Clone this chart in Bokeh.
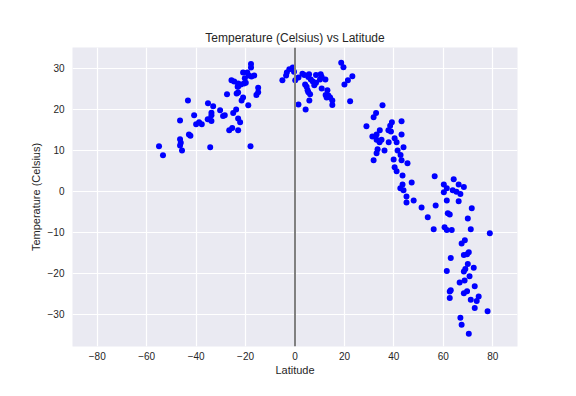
from bokeh.plotting import figure
from bokeh.models import Range1d, FixedTicker, Span
from bokeh.embed import file_html
from bokeh.resources import INLINE

# Latitude / temperature pairs
lat_south = [-55.0, -53.4, -46.5, -43.3, -46.5, -46.2, -46.5, -45.7, -42.9, -42.3,
             -40.8, -40.0, -38.8, -37.7, -35.2, -33.1, -34.3, -33.8, -33.8, -34.5,
             -33.8, -35.3, -30.3, -29.1, -28.4, -27.5, -26.6, -25.4, -23.0, -25.0,
             -23.8, -23.0, -22.2, -23.6, -23.0, -21.6, -21.0, -18.9, -18.0, -25.7,
             -24.6, -23.0, -23.0, -21.9, -20.6, -19.9, -20.3, -21.0, -19.3, -18.7,
             -17.6, -16.5, -17.8, -17.8, -14.9, -14.9, -15.6, -5.1, -3.6, -3.3,
             -2.3, -0.9, -0.4, -23.2]
temp_south = [10.9, 8.7, 17.2, 22.1, 12.6, 11.8, 11.1, 9.9, 13.8, 13.5,
              18.5, 16.3, 16.8, 16.3, 21.4, 20.7, 10.7, 19.1, 18.5, 17.5,
              17.1, 17.5, 19.7, 18.3, 18.5, 23.6, 14.8, 15.4, 14.8, 19.0,
              19.9, 17.7, 16.8, 23.8, 24.0, 22.1, 22.8, 20.9, 10.9, 27.0,
              26.7, 26.2, 25.5, 26.0, 26.2, 26.4, 27.5, 28.9, 28.9, 28.2,
              27.9, 28.2, 30.1, 31.0, 25.2, 24.1, 23.4, 27.0, 28.2, 28.9,
              29.7, 30.1, 29.1, 25.4]

lat_north = [0.1, 1.4, 3.0, 3.8, 5.7, 5.4, 6.4, 7.2, 8.5, 8.5,
             10.4, 10.8, 12.3, 10.1, 4.1, 4.7, 5.1, 5.4, 6.1, 5.8,
             1.4, 4.3, 7.8, 10.8, 13.1, 12.4, 13.5, 14.2, 15.1, 15.1,
             12.8, 18.7, 19.6, 23.2, 21.4, 20.0, 22.3, 35.4, 32.8, 31.8,
             28.9, 39.2, 38.5, 37.8, 38.8, 43.1, 43.1, 31.3, 33.0, 34.3,
             33.0, 34.2, 35.0, 37.9, 40.3, 41.1, 43.9, 33.4, 33.0, 31.8,
             36.2, 41.5, 42.7, 43.1, 39.9, 45.5, 40.3, 41.1, 43.5, 56.5,
             47.2, 43.5, 42.6, 43.9, 60.2, 61.4, 60.2, 45.1, 45.1, 48.0,
             51.2, 56.9, 61.4, 64.2, 66.2, 68.3, 63.8, 65.3, 66.9, 66.2,
             71.5, 53.7, 61.8, 62.6, 69.9, 56.1, 60.5, 61.4, 63.4, 71.1,
             78.8, 68.7, 67.4, 70.3, 69.6, 68.3, 63.0, 69.9, 72.3, 68.9,
             68.3, 61.4, 70.6, 68.6, 66.6, 72.7, 63.0, 62.6, 69.6, 68.3,
             62.6, 74.3, 73.5, 71.1, 72.7, 77.9, 66.9, 67.4, 70.3]
temp_north = [27.0, 27.7, 28.6, 28.3, 28.5, 27.8, 27.2, 26.7, 26.4, 28.3,
              28.5, 27.8, 27.2, 27.2, 26.0, 25.4, 24.6, 24.1, 23.6, 22.1,
              21.1, 19.9, 25.8, 25.0, 24.6, 23.4, 23.3, 22.8, 22.1, 21.0,
              22.8, 31.3, 30.2, 28.0, 27.0, 26.0, 21.9, 20.9, 19.0, 18.0,
              15.8, 16.8, 15.9, 14.8, 14.5, 17.0, 13.8, 13.3, 13.8, 14.8,
              12.5, 11.9, 12.5, 11.9, 12.9, 11.9, 10.7, 10.2, 9.2, 7.5,
              9.9, 9.9, 8.8, 7.5, 7.7, 6.8, 5.8, 4.8, 3.8, 3.6,
              2.1, 1.6, 0.7, 0.2, 1.6, 0.7, -0.3, -1.3, -2.8, -2.3,
              -4.0, -3.5, -2.3, 2.9, 1.6, 1.0, 0.2, -0.2, -0.7, -2.5,
              -4.2, -6.4, -5.4, -5.7, -6.7, -9.3, -8.8, -9.5, -9.5, -9.3,
              -10.3, -12.0, -12.8, -14.9, -15.4, -15.6, -16.3, -17.8, -18.7, -19.0,
              -19.6, -19.5, -20.8, -21.8, -22.3, -23.2, -24.2, -24.5, -24.4, -24.9,
              -26.1, -25.7, -26.8, -26.5, -28.5, -29.3, -30.9, -32.6, -34.8]

latitude = lat_south + lat_north
temperature = temp_south + temp_north

x_ticks = [-80, -60, -40, -20, 0, 20, 40, 60, 80]
y_ticks = [-30, -20, -10, 0, 10, 20, 30]

FONT = "Liberation Sans"
TXT = "#262626"

p = figure(width=568, height=388, output_backend="svg", toolbar_location=None,
           x_range=Range1d(-90, 90), y_range=Range1d(-37.9, 35.0),
           title="Temperature (Celsius) vs Latitude",
           x_axis_label="Latitude", y_axis_label="Temperature (Celsius)",
           min_border_left=72, min_border_right=51, min_border_top=47, min_border_bottom=42)

p.background_fill_color = "#EAEAF2"
p.border_fill_color = "white"
p.outline_line_color = None

p.title.align = "center"
p.title.text_font = FONT
p.title.text_font_size = "12px"
p.title.text_font_style = "normal"
p.title.text_color = TXT
p.title.offset = 0
p.title.standoff = 6

for ax in (p.xaxis, p.yaxis):
    ax.axis_line_color = None
    ax.major_tick_line_color = None
    ax.minor_tick_line_color = None
    ax.major_tick_in = 0
    ax.major_tick_out = 0
    ax.minor_tick_in = 0
    ax.minor_tick_out = 0
    ax.major_label_text_font = FONT
    ax.major_label_text_font_size = "10px"
    ax.major_label_text_color = TXT
    ax.axis_label_text_font = FONT
    ax.axis_label_text_font_size = "11px"
    ax.axis_label_text_font_style = "normal"
    ax.axis_label_text_color = TXT

p.xaxis.ticker = FixedTicker(ticks=x_ticks)
p.yaxis.ticker = FixedTicker(ticks=y_ticks)
p.xaxis.major_label_overrides = {t: (str(t).replace("-", "\u2212")) for t in x_ticks}
p.yaxis.major_label_overrides = {t: (str(t).replace("-", "\u2212")) for t in y_ticks}
p.xaxis.major_label_standoff = 5
p.yaxis.major_label_standoff = 8
p.xaxis.axis_label_standoff = 1
p.yaxis.axis_label_standoff = 3

p.xgrid.grid_line_color = "white"
p.ygrid.grid_line_color = "white"
p.xgrid.grid_line_width = 1.2
p.ygrid.grid_line_width = 1.2

p.add_layout(Span(location=0, dimension="height", line_color="#808080", line_width=2))

p.scatter(latitude, temperature, size=6, marker="circle",
          fill_color="#0000FF", line_color=None)

open("out.html", "w").write(file_html(p, INLINE))
